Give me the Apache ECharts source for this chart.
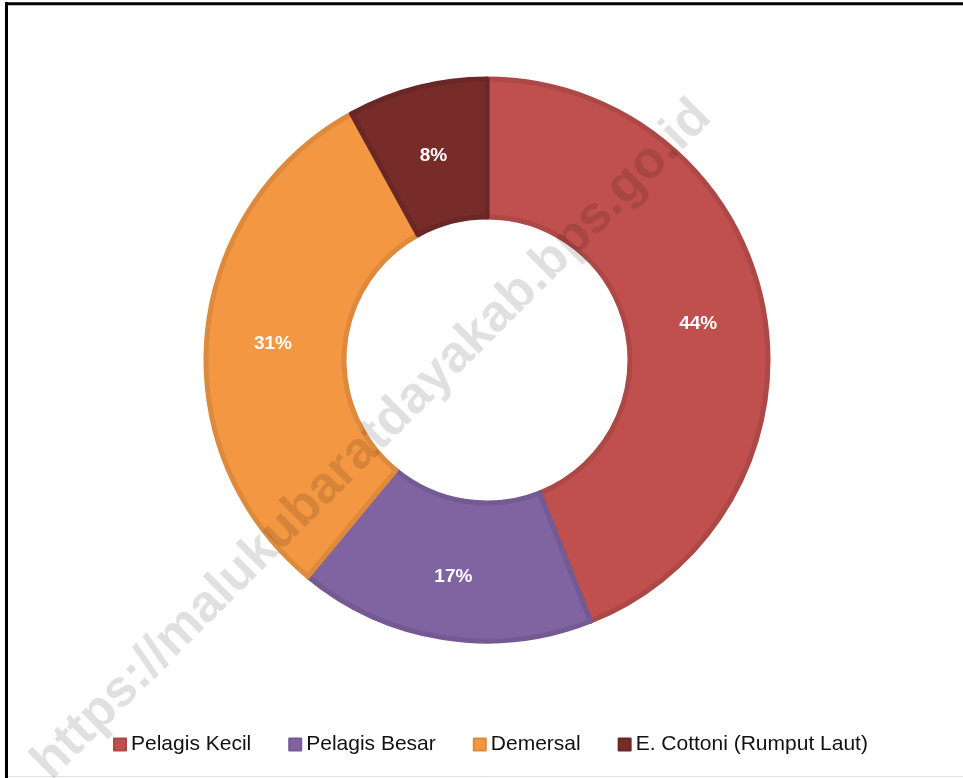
<!DOCTYPE html>
<html>
<head>
<meta charset="utf-8">
<script src="https://cdn.jsdelivr.net/npm/echarts@6/dist/echarts.min.js"></script>
<style>
  html, body { margin: 0; padding: 0; background: #fff; }
  #chart { width: 963px; height: 778px; }
</style>
</head>
<body>
<div id="chart"></div>
<script>
// data
const categories = ['Pelagis Kecil', 'Pelagis Besar', 'Demersal', 'E. Cottoni (Rumput Laut)'];
const shares     = [44, 17, 31, 8];   // persen
const fills      = ['#C0504D', '#8064A2', '#F39743', '#772C2A'];
const edges      = ['#AC4846', '#735A92', '#DE8A3D', '#6A2727'];
const watermark  = 'https://malukubaratdayakab.bps.go.id';

const chart = echarts.init(document.getElementById('chart'), null, { renderer: 'canvas' });

chart.setOption({
  backgroundColor: '#fff',
  animation: false,
  legend: {
    data: categories,
    left: 108,
    top: 729,
    icon: 'rect',
    itemWidth: 12,
    itemHeight: 12,
    itemGap: 37,
    textStyle: { color: '#111', fontSize: 21, fontFamily: 'Liberation Sans, Arial, sans-serif' },
  },
  series: [{
    type: 'pie',
    center: [487, 360],
    radius: [143, 281],
    startAngle: 90,
    clockwise: true,
    silent: true,
    label: {
      show: true,
      position: 'inside',
      formatter: '{c}%',
      offset: [0, 4],
      color: '#fff',
      fontSize: 19,
      fontWeight: 'bold',
      fontFamily: 'Liberation Sans, Arial, sans-serif',
    },
    labelLine: { show: false },
    data: categories.map((name, i) => ({
      name,
      value: shares[i],
      itemStyle: { color: fills[i], borderColor: edges[i], borderWidth: 5 },
    })),
  }],
  graphic: [
    // bingkai
    { type: 'line', shape: { x1: 5, y1: 3.7, x2: 963, y2: 3.7 }, style: { stroke: '#000', lineWidth: 3 } },
    { type: 'line', shape: { x1: 6.5, y1: 2.2, x2: 6.5, y2: 778 }, style: { stroke: '#000', lineWidth: 3 } },
    { type: 'line', shape: { x1: 8, y1: 776.5, x2: 963, y2: 776.5 }, style: { stroke: '#e2e2e2', lineWidth: 1 } },
    // watermark
    {
      type: 'text',
      x: 372, y: 440,
      rotation: Math.PI / 4,
      z: 100,
      silent: true,
      style: {
        text: watermark,
        fill: 'rgba(0,0,0,0.12)',
        font: 'bold 52px "Liberation Sans", Arial, sans-serif',
        align: 'center',
        verticalAlign: 'middle',
      },
    },
  ],
});
</script>
</body>
</html>
